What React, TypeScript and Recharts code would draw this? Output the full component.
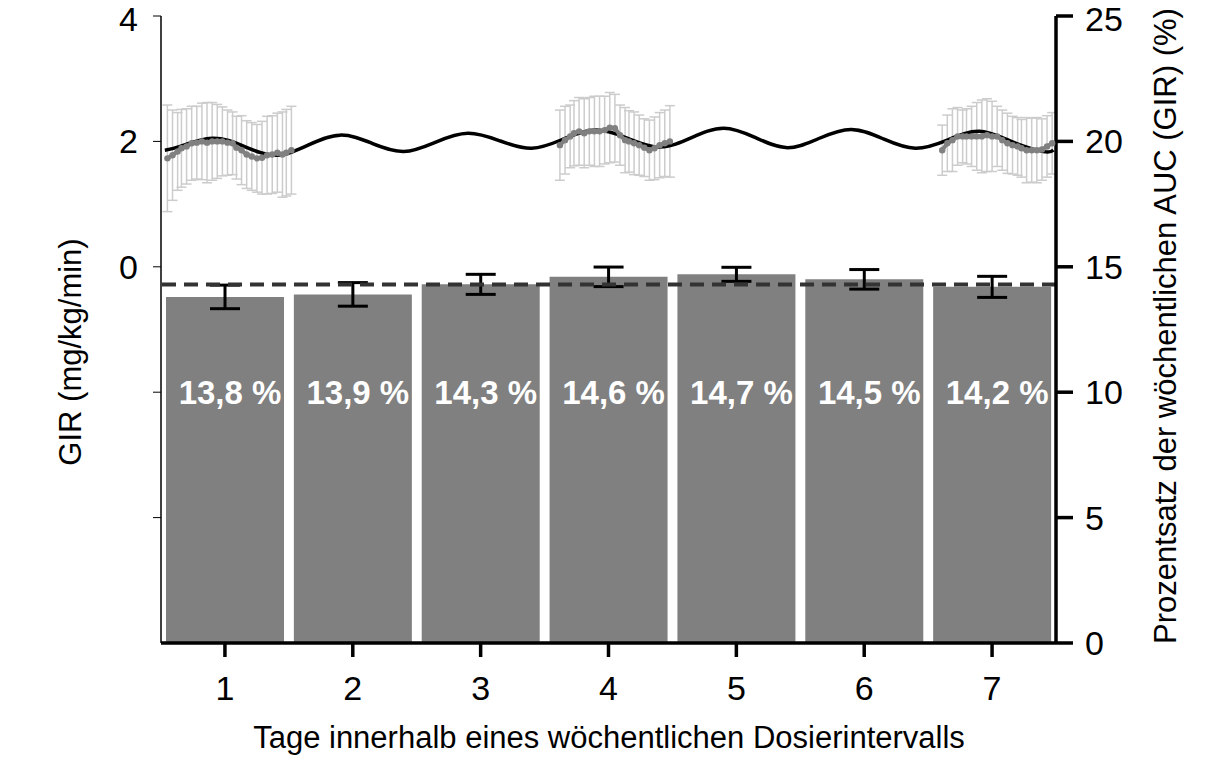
import React from 'react';
import {
  ComposedChart,
  Bar,
  Line,
  XAxis,
  YAxis,
  ErrorBar,
  ReferenceLine,
  LabelList,
} from 'recharts';

// Tage (Kategorien) und Anteil an der wöchentlichen AUC (%)
const days = ['1', '2', '3', '4', '5', '6', '7'];
const shares = [13.8, 13.9, 14.3, 14.6, 14.7, 14.5, 14.2];
const shareErr = [0.47, 0.47, 0.4, 0.39, 0.28, 0.39, 0.42];
const weeklyMean = 14.29;

// Modellkurve GIR (mg/kg/min), Zeit in Tagen
const modelT = [0.53, 0.65, 0.9, 1.15, 1.4, 1.65, 1.9, 2.15, 2.4, 2.65, 2.9, 3.15, 3.4, 3.65, 3.9, 4.15, 4.4, 4.65, 4.9, 5.15, 5.4, 5.65, 5.9, 6.15, 6.4, 6.65, 6.9, 7.15, 7.4, 7.48];
const modelGir = [1.86, 1.92, 2.05, 1.92, 1.78, 1.94, 2.1, 1.97, 1.84, 1.99, 2.13, 2.01, 1.89, 2.04, 2.18, 2.05, 1.91, 2.06, 2.21, 2.06, 1.9, 2.05, 2.19, 2.04, 1.89, 2.02, 2.16, 2.0, 1.84, 1.86];

// Beobachtete GIR (Mittelwert, SD) – Tag 1
const obs1T = [0.55, 0.59, 0.63, 0.66, 0.7, 0.74, 0.78, 0.82, 0.86, 0.9, 0.94, 0.98, 1.02, 1.06, 1.09, 1.13, 1.17, 1.21, 1.25, 1.29, 1.33, 1.37, 1.41, 1.45, 1.48, 1.52];
const obs1Mean = [1.73, 1.78, 1.84, 1.89, 1.92, 1.97, 1.98, 2.0, 1.98, 2.0, 2.0, 2.0, 1.98, 1.97, 1.9, 1.86, 1.79, 1.76, 1.73, 1.74, 1.78, 1.79, 1.82, 1.79, 1.82, 1.86];
const obs1Sd = [0.85, 0.72, 0.62, 0.62, 0.6, 0.59, 0.58, 0.61, 0.64, 0.62, 0.59, 0.55, 0.52, 0.5, 0.5, 0.55, 0.54, 0.54, 0.54, 0.58, 0.62, 0.62, 0.63, 0.68, 0.69, 0.7];

// Tag 4
const obs4T = [3.62, 3.66, 3.7, 3.73, 3.77, 3.81, 3.85, 3.89, 3.93, 3.97, 4.01, 4.05, 4.09, 4.13, 4.16, 4.2, 4.24, 4.28, 4.32, 4.36, 4.4, 4.44, 4.48];
const obs4Mean = [1.94, 2.02, 2.08, 2.13, 2.16, 2.13, 2.16, 2.16, 2.16, 2.18, 2.22, 2.21, 2.1, 2.02, 2.0, 1.97, 1.94, 1.9, 1.86, 1.89, 1.94, 1.97, 2.0];
const obs4Sd = [0.56, 0.54, 0.5, 0.52, 0.54, 0.55, 0.54, 0.56, 0.56, 0.54, 0.56, 0.54, 0.48, 0.52, 0.49, 0.5, 0.48, 0.46, 0.48, 0.5, 0.52, 0.53, 0.57];

// Tag 7
const obs7T = [6.61, 6.65, 6.69, 6.73, 6.77, 6.8, 6.84, 6.88, 6.92, 6.96, 7.0, 7.04, 7.08, 7.12, 7.16, 7.2, 7.23, 7.27, 7.31, 7.35, 7.39, 7.43, 7.47];
const obs7Mean = [1.86, 1.97, 2.02, 2.08, 2.08, 2.08, 2.08, 2.08, 2.08, 2.1, 2.08, 2.08, 2.02, 1.97, 1.94, 1.92, 1.89, 1.86, 1.86, 1.86, 1.87, 1.92, 1.97];
const obs7Sd = [0.4, 0.45, 0.5, 0.46, 0.42, 0.44, 0.48, 0.54, 0.58, 0.58, 0.56, 0.48, 0.48, 0.48, 0.46, 0.46, 0.46, 0.52, 0.51, 0.52, 0.49, 0.49, 0.49];

const barData = days.map((d, i) => ({ day: d, share: shares[i], err: shareErr[i] }));
const modelData = modelT.map((t, i) => ({ t, gir: modelGir[i] }));
const toObs = (ts: number[], m: number[], s: number[]) =>
  ts.map((t, i) => ({ t, gir: m[i], sd: s[i] }));
const obsSets = [
  toObs(obs1T, obs1Mean, obs1Sd),
  toObs(obs4T, obs4Mean, obs4Sd),
  toObs(obs7T, obs7Mean, obs7Sd),
];

const FONT = '"Liberation Sans", Arial, sans-serif';

const ShareLabel = (props: any) => {
  const { x, y, width, height, value } = props;
  return (
    <text
      x={x + width / 2 + 5}
      y={y + height - 239}
      textAnchor="middle"
      fill="#fff"
      fontSize={33}
      fontWeight="bold"
      fontFamily={FONT}
    >
      {`${Number(value).toFixed(1).replace('.', ',')} %`}
    </text>
  );
};

export default function App() {
  return (
    <div style={{ position: 'absolute', left: 0, top: 0, width: 1231, height: 757, background: '#fff' }}>
      <ComposedChart
        width={1231}
        height={757}
        data={barData}
        margin={{ top: 16, right: 75, bottom: 54, left: 81 }}
      >
        <XAxis
          xAxisId="cat"
          dataKey="day"
          type="category"
          axisLine={{ stroke: '#000', strokeWidth: 3.5 }}
          tickLine={{ stroke: '#000', strokeWidth: 3.5 }}
          tickSize={14}
          tickMargin={19}
          height={60}
          tick={{ fill: '#000', fontSize: 34, fontFamily: FONT }}
        />
        <XAxis xAxisId="t" type="number" dataKey="t" domain={[0.5, 7.5]} allowDataOverflow hide />
        <YAxis
          yAxisId="gir"
          orientation="left"
          width={80}
          domain={[-6, 4]}
          ticks={[-4, -2, 0, 2, 4]}
          allowDataOverflow
          tickFormatter={(v: number) => (v >= 0 ? String(v) : '')}
          axisLine={{ stroke: '#000', strokeWidth: 1.5 }}
          tickLine={{ stroke: '#000', strokeWidth: 1 }}
          tickSize={8}
          tickMargin={15}
          tick={{ fill: '#000', fontSize: 34, fontFamily: FONT }}
        />
        <YAxis
          yAxisId="pct"
          orientation="right"
          width={100}
          domain={[0, 25]}
          ticks={[0, 5, 10, 15, 20, 25]}
          allowDataOverflow
          axisLine={{ stroke: '#000', strokeWidth: 3.5 }}
          tickLine={{ stroke: '#000', strokeWidth: 3.5 }}
          tickSize={17}
          tickMargin={12}
          tick={{ fill: '#000', fontSize: 34, fontFamily: FONT }}
        />

        <Bar
          xAxisId="cat"
          yAxisId="pct"
          dataKey="share"
          fill="#808080"
          barSize={118}
          isAnimationActive={false}
        >
          <ErrorBar dataKey="err" direction="y" width={15} stroke="#000" strokeWidth={3} />
          <LabelList dataKey="share" content={ShareLabel} />
        </Bar>

        <ReferenceLine
          xAxisId="cat"
          yAxisId="pct"
          y={weeklyMean}
          stroke="#333"
          strokeWidth={4}
          strokeDasharray="14 8"
        />

        {obsSets.map((set, i) => (
          <Line
            key={`err-${i}`}
            xAxisId="t"
            yAxisId="gir"
            data={set}
            dataKey="gir"
            stroke="none"
            strokeOpacity={0}
            dot={false}
            activeDot={false}
            isAnimationActive={false}
          >
            <ErrorBar dataKey="sd" direction="y" width={5} stroke="#cccccc" strokeWidth={1.5} />
          </Line>
        ))}

        <Line
          xAxisId="t"
          yAxisId="gir"
          data={modelData}
          dataKey="gir"
          type="natural"
          stroke="#000"
          strokeWidth={3.5}
          dot={false}
          activeDot={false}
          isAnimationActive={false}
        />

        {obsSets.map((set, i) => (
          <Line
            key={`obs-${i}`}
            xAxisId="t"
            yAxisId="gir"
            data={set}
            dataKey="gir"
            type="linear"
            stroke="#808080"
            strokeWidth={4}
            dot={{ r: 3.2, fill: '#808080', stroke: 'none' }}
            activeDot={false}
            isAnimationActive={false}
          />
        ))}

        <text
          x={70}
          y={352}
          transform="rotate(-90 70 352)"
          textAnchor="middle"
          dominantBaseline="central"
          fontSize={31}
          fontFamily={FONT}
          fill="#000"
        >
          GIR (mg/kg/min)
        </text>
        <text
          x={1165}
          y={326}
          transform="rotate(-90 1165 326)"
          textAnchor="middle"
          dominantBaseline="central"
          fontSize={31}
          fontFamily={FONT}
          fill="#000"
        >
          Prozentsatz der wöchentlichen AUC (GIR) (%)
        </text>
        <text x={609} y={748} textAnchor="middle" fontSize={31} fontFamily={FONT} fill="#000">
          Tage innerhalb eines wöchentlichen Dosierintervalls
        </text>
      </ComposedChart>
    </div>
  );
}
